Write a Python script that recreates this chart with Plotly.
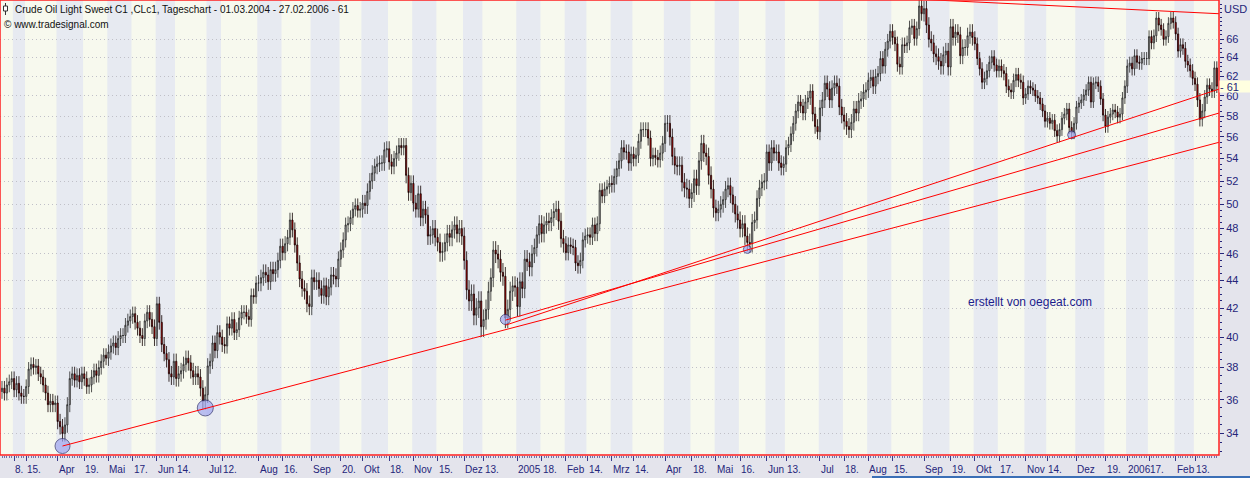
import math
import numpy as np
import pandas as pd
import plotly.graph_objects as go

# ---------------- data ----------------
holidays = ["2004-04-09", "2004-05-31", "2004-06-11", "2004-07-05", "2004-09-06",
            "2004-11-25", "2004-12-24", "2005-01-17", "2005-02-21", "2005-03-25",
            "2005-05-30", "2005-07-04", "2005-09-05", "2005-11-24", "2005-12-26",
            "2006-01-02", "2006-01-16", "2006-02-20"]

c_2004_03 = [36.7, 36.4, 36.9, 37.1, 37.3, 36.6, 37.0, 36.4, 36.2, 36.2, 36.8, 37.9, 38.2, 38.0, 38.1,
             37.6, 37.4, 36.9, 36.4, 35.7, 35.9, 35.7, 35.8]
c_2004_04 = [34.7, 34.4, 34.0, 34.5, 35.7, 37.3, 37.6, 37.2, 37.5, 37.1, 37.6, 37.3, 36.8, 36.9, 37.4,
             37.8, 37.5, 38.0, 38.4, 38.8, 38.6]
c_2004_05 = [39.0, 39.4, 39.6, 39.3, 39.9, 40.1, 40.1, 40.8, 41.1, 41.4, 41.6, 41.0, 40.6, 40.1, 39.9,
             41.1, 41.7, 41.2, 40.7, 39.9]
c_2004_06 = [42.3, 41.0, 39.5, 38.9, 38.5, 37.6, 37.4, 38.4, 37.3, 37.6, 37.8, 38.2, 38.6, 38.3, 37.8,
             37.4, 37.6, 37.4, 36.7, 35.9, 36.3]
c_2004_07 = [38.1, 38.4, 39.6, 39.1, 40.3, 40.0, 39.5, 39.4, 40.9, 40.6, 41.2, 40.3, 40.5, 41.3, 41.7,
             41.7, 41.4, 41.2, 42.9, 42.8, 43.8]
c_2004_08 = [43.8, 44.2, 44.6, 44.4, 43.9, 44.8, 44.5, 44.8, 45.5, 46.6, 46.1, 46.8, 47.3, 48.7, 47.9,
             46.7, 45.3, 44.1, 43.4, 43.2, 42.3, 42.1]
c_2004_09 = [44.2, 43.9, 44.0, 43.4, 42.9, 43.6, 42.8, 43.5, 44.4, 44.3, 44.1, 45.6, 46.3, 47.1, 48.3,
             48.4, 48.9, 49.6, 49.9, 49.5, 49.6]
c_2004_10 = [50.1, 49.9, 51.1, 52.0, 52.7, 53.3, 53.5, 53.6, 53.6, 54.8, 54.9, 53.7, 53.3, 54.0, 54.5,
             55.2, 55.0, 55.2, 52.5, 51.0, 51.8]
c_2004_11 = [50.1, 49.6, 50.9, 48.9, 49.6, 49.1, 47.4, 47.5, 48.0, 47.3, 46.9, 46.1, 46.2, 46.9, 47.6,
             47.3, 47.9, 48.3, 47.6, 48.0, 47.4]
c_2004_12 = [45.5, 43.3, 42.5, 43.0, 41.5, 42.0, 42.5, 40.7, 41.2, 41.9, 43.2, 44.2, 46.3, 46.0, 45.6,
             44.6, 44.3, 41.3, 41.9, 43.2, 43.6, 43.5]
c_2005_01 = [42.1, 43.9, 43.4, 45.6, 45.4, 45.0, 46.0, 46.5, 47.5, 48.4, 47.6, 48.3, 48.6, 48.5, 48.9,
             49.4, 49.6, 48.6, 47.2, 46.8]
c_2005_02 = [46.1, 46.7, 46.6, 46.5, 45.3, 45.1, 45.5, 47.1, 47.4, 47.5, 47.3, 48.3, 47.6, 48.4, 51.2,
             50.7, 51.3, 51.5, 51.8]
c_2005_03 = [51.7, 52.4, 53.1, 53.8, 55.0, 54.6, 54.6, 53.6, 54.4, 54.0, 54.3, 55.6, 56.7, 56.7, 56.7,
             55.9, 54.0, 54.3, 54.1, 53.9, 54.5, 55.4]
c_2005_04 = [57.3, 57.3, 56.0, 54.2, 53.4, 53.3, 53.4, 51.9, 51.4, 51.3, 50.5, 51.0, 52.2, 51.6, 53.8,
             55.4, 54.5, 54.2, 52.5, 51.3, 49.7]
c_2005_05 = [49.3, 49.6, 50.0, 50.4, 51.3, 51.6, 50.8, 50.0, 49.2, 48.7, 48.0, 48.4, 47.4, 46.9, 46.8,
             48.5, 48.7, 50.5, 51.4, 51.9, 52.0]
c_2005_06 = [54.6, 53.6, 55.0, 54.5, 54.6, 53.6, 53.2, 53.5, 55.0, 55.3, 56.3, 57.3, 58.5, 59.4, 59.0,
             58.3, 59.4, 59.8, 60.5, 58.2, 57.0, 56.5]
c_2005_07 = [58.8, 59.6, 61.3, 60.7, 59.6, 60.8, 61.3, 61.0, 58.9, 58.1, 57.5, 57.0, 56.7, 57.4, 58.7,
             58.3, 59.5, 59.7, 60.4, 60.6]
c_2005_08 = [61.6, 61.9, 61.0, 62.0, 62.3, 63.9, 63.1, 64.9, 65.8, 66.9, 66.2, 65.5, 63.3, 63.0, 65.4,
             65.3, 65.6, 67.3, 67.5, 66.1, 67.2, 69.8, 68.9]
c_2005_09 = [69.5, 67.6, 66.0, 65.6, 64.4, 64.1, 63.6, 63.1, 64.3, 64.7, 63.0, 67.4, 66.2, 66.8, 66.5,
             64.2, 65.1, 65.1, 66.4, 66.8, 66.2]
c_2005_10 = [65.5, 63.9, 62.8, 61.4, 61.8, 62.6, 63.5, 64.1, 63.2, 62.6, 63.1, 62.6, 62.3, 61.0, 60.6,
             60.4, 61.6, 62.2, 61.6, 61.4, 59.8]
c_2005_11 = [60.2, 61.0, 60.8, 60.6, 60.0, 59.8, 59.2, 58.5, 57.5, 57.8, 57.3, 57.6, 56.6, 56.1, 56.7,
             57.8, 58.2, 58.7, 56.9, 56.4, 57.3]
c_2005_12 = [58.9, 59.3, 59.6, 60.1, 60.6, 61.4, 59.4, 61.3, 61.4, 61.0, 59.7, 58.1, 57.0, 57.9, 58.2,
             58.6, 58.4, 57.9, 58.2, 59.8, 61.0]
c_2006_01 = [63.1, 63.4, 62.8, 64.2, 63.5, 63.4, 63.9, 63.9, 63.9, 66.3, 65.6, 66.4, 68.4, 67.6, 67.1,
             66.0, 66.3, 67.8, 68.4, 67.9]
c_2006_02 = [66.6, 64.7, 65.4, 65.0, 63.6, 63.2, 62.6, 61.8, 61.2, 59.6, 57.7, 58.5, 59.9, 61.1, 60.7,
             60.5, 62.9, 61.0]

months = [c_2004_03, c_2004_04, c_2004_05, c_2004_06, c_2004_07, c_2004_08, c_2004_09, c_2004_10,
          c_2004_11, c_2004_12, c_2005_01, c_2005_02, c_2005_03, c_2005_04, c_2005_05, c_2005_06,
          c_2005_07, c_2005_08, c_2005_09, c_2005_10, c_2005_11, c_2005_12, c_2006_01, c_2006_02]
# typical wick beyond the candle body for each month (USD)
month_wick = [0.45, 0.45, 0.5, 0.5, 0.5, 0.6, 0.6, 0.7, 0.7, 0.7,
              0.7, 0.6, 0.7, 0.8, 0.7, 0.7, 0.8, 0.8, 0.9, 0.7, 0.6, 0.6,
              0.7, 0.7]
first_open = 36.5

tick_dates = ["2004-03-08", "2004-03-15", "2004-04-01", "2004-04-19", "2004-05-03", "2004-05-17",
              "2004-06-01", "2004-06-14", "2004-07-01", "2004-07-12", "2004-08-02", "2004-08-16",
              "2004-09-01", "2004-09-20", "2004-10-01", "2004-10-18", "2004-11-01", "2004-11-15",
              "2004-12-01", "2004-12-13", "2005-01-03", "2005-01-18", "2005-02-01", "2005-02-14",
              "2005-03-01", "2005-03-14", "2005-04-01", "2005-04-18", "2005-05-02", "2005-05-16",
              "2005-06-01", "2005-06-13", "2005-07-01", "2005-07-18", "2005-08-01", "2005-08-15",
              "2005-09-01", "2005-09-19", "2005-10-03", "2005-10-17", "2005-11-01", "2005-11-14",
              "2005-12-01", "2005-12-19", "2006-01-03", "2006-01-17", "2006-02-01", "2006-02-13"]
tick_labels = ["8.", "15.", "Apr", "19.", "Mai", "17.", "Jun", "14.", "Jul", "12.", "Aug", "16.",
               "Sep", "20.", "Okt", "18.", "Nov", "15.", "Dez", "13.", "2005", "18.", "Feb", "14.",
               "Mrz", "14.", "Apr", "18.", "Mai", "16.", "Jun", "13.", "Jul", "18.", "Aug", "15.",
               "Sep", "19.", "Okt", "17.", "Nov", "14.", "Dez", "19.", "2006", "17.", "Feb", "13."]

y_ticks = [34, 36, 38, 40, 42, 44, 46, 48, 50, 52, 54, 56, 58, 60, 62, 64, 66]

# marked lows (date, price)
mark_dates = ["2004-04-05", "2004-06-30", "2004-12-27", "2005-05-19", "2005-11-29"]
mark_prices = [33.3, 35.5, 41.2, 46.35, 56.2]
mark_sizes = [15, 16, 10, 8, 8]

# trend lines: (start date, start price, end price at right edge)
trend_lines = [("2004-04-05", 33.3, 55.5),
               ("2004-12-27", 41.15, 58.3),
               ("2004-12-27", 40.8, 60.7),
               ("2005-08-30", 70.6, 68.9)]
last_price = 61

# ---------------- build ----------------
days = pd.bdate_range("2004-03-01", "2006-02-27")
days = days[~days.isin(pd.to_datetime(holidays))]
close = np.array(sum(months, []))
assert len(close) == len(days), (len(close), len(days))
wick = np.concatenate([[w] * len(m) for w, m in zip(month_wick, months)])
opn = np.concatenate([[first_open], close[:-1]])
high = np.maximum(opn, close) + wick
low = np.minimum(opn, close) - wick
idx = np.arange(len(close))
pos = {d.strftime("%Y-%m-%d"): i for i, d in enumerate(days)}

PW, PH = 1219.0, 455.0
X0, X1 = -0.83, 502.9
Y0, Y1 = math.log10(32.80), math.log10(70.51)

def pxx(px):
    return px / PW

def pxy(py):
    return 1 - py / PH

NAVY = "#25257a"
FONT = "Liberation Sans Narrow, Arial Narrow, Liberation Sans, Arial, sans-serif"

fig = go.Figure()
fig.add_trace(go.Candlestick(
    x=idx, open=opn, high=high, low=low, close=close,
    increasing=dict(line=dict(color="#262626", width=0.8), fillcolor="#bcbcbc"),
    decreasing=dict(line=dict(color="#100000", width=0.8), fillcolor="#d40000"),
    whiskerwidth=0, hoverinfo="skip", showlegend=False))

fig.add_trace(go.Scatter(
    x=[pos[d] for d in mark_dates], y=mark_prices, mode="markers",
    marker=dict(size=mark_sizes, color="#a0a6f0", line=dict(color="#2a2a6a", width=1)),
    hoverinfo="skip", showlegend=False))

for d0, p0, p1 in trend_lines:
    fig.add_trace(go.Scatter(x=[pos[d0], X1], y=[p0, p1], mode="lines",
                             line=dict(color="#ff0000", width=1),
                             hoverinfo="skip", showlegend=False))

shapes = []
tick_idx = [pos[d] for d in tick_dates]
for k in range(0, len(tick_idx) - 1, 2):
    shapes.append(dict(type="rect", xref="x", yref="paper", x0=tick_idx[k] - 0.5,
                       x1=tick_idx[k + 1] - 0.5, y0=0, y1=1, fillcolor="#e7eaf1",
                       line=dict(width=0), layer="below"))
shapes.append(dict(type="rect", xref="paper", yref="paper", x0=0, x1=1, y0=0, y1=1,
                   line=dict(color="#ff2020", width=1.5), fillcolor="rgba(0,0,0,0)"))
# small candle icon in the title
shapes.append(dict(type="line", xref="paper", yref="paper", x0=pxx(5.5), x1=pxx(5.5),
                   y0=pxy(3), y1=pxy(15), line=dict(color="#333", width=1)))
shapes.append(dict(type="rect", xref="paper", yref="paper", x0=pxx(3.5), x1=pxx(7.5),
                   y0=pxy(6), y1=pxy(11), line=dict(color="#333", width=1), fillcolor="#ffffff"))
# bottom window line
shapes.append(dict(type="line", xref="paper", yref="paper", x0=pxx(872), x1=pxx(1250),
                   y0=pxy(477), y1=pxy(477), line=dict(color="#3b6fb6", width=2)))

ann = []
for ti, tl in zip(tick_idx, tick_labels):
    ann.append(dict(x=ti, xref="x", y=0, yref="paper", text=tl, showarrow=False,
                    xanchor="left", yanchor="top", yshift=-7, xshift=-1,
                    font=dict(family=FONT, size=10, color=NAVY)))
ann.append(dict(x=pxx(13), xref="paper", y=pxy(9), yref="paper", showarrow=False,
                text="Crude Oil Light Sweet C1 ,CLc1, Tageschart - 01.03.2004 - 27.02.2006 - 61",
                xanchor="left", yanchor="middle", font=dict(family=FONT, size=10, color="#111111")))
ann.append(dict(x=pxx(2), xref="paper", y=pxy(24), yref="paper", showarrow=False,
                text="© www.tradesignal.com", xanchor="left", yanchor="middle",
                font=dict(family=FONT, size=10, color="#111111")))
ann.append(dict(x=pxx(966), xref="paper", y=pxy(302), yref="paper", showarrow=False,
                text="erstellt von oegeat.com", xanchor="left", yanchor="middle",
                font=dict(family=FONT, size=12, color="#1c1c8c")))
ann.append(dict(x=pxx(1222), xref="paper", y=pxy(9), yref="paper", showarrow=False,
                text="USD", xanchor="left", yanchor="middle",
                font=dict(family=FONT, size=11, color=NAVY)))
ann.append(dict(x=1.0, xref="paper", y=math.log10(last_price), yref="y", showarrow=False,
                text="- 61", xanchor="left", yanchor="middle", align="left",
                width=30, height=11, borderpad=0, bgcolor="#ffffe0",
                font=dict(family=FONT, size=11, color=NAVY)))

fig.update_layout(
    width=1250, height=478,
    margin=dict(l=0, r=31, t=0, b=23),
    paper_bgcolor="#e4e4ec", plot_bgcolor="#f7f9ee",
    shapes=shapes, annotations=ann, showlegend=False,
    xaxis=dict(range=[X0, X1], showgrid=False, zeroline=False, showticklabels=False,
               tickmode="array", tickvals=tick_idx, ticks="outside", ticklen=5,
               tickcolor="#3a3a8a", tickwidth=1, showline=False,
               minor=dict(dtick=1, tick0=0, ticks="outside", ticklen=2, tickcolor="#7070aa",
                          showgrid=False),
               rangeslider=dict(visible=False), fixedrange=True),
    yaxis=dict(type="log", side="right", range=[Y0, Y1], tickmode="array",
               tickvals=y_ticks, ticktext=[str(v) for v in y_ticks],
               ticks="outside", ticklen=4, tickcolor=NAVY, tickwidth=1,
               tickfont=dict(family=FONT, size=11, color=NAVY),
               showgrid=True, gridcolor="#c0c0c8", griddash="1px,3px", gridwidth=1,
               zeroline=False, showline=False,
               minor=dict(tickvals=list(np.arange(33.0, 70.5, 0.5)), ticks="outside", ticklen=2,
                          tickcolor=NAVY, showgrid=False),
               fixedrange=True),
)

fig.write_html("out.html")
